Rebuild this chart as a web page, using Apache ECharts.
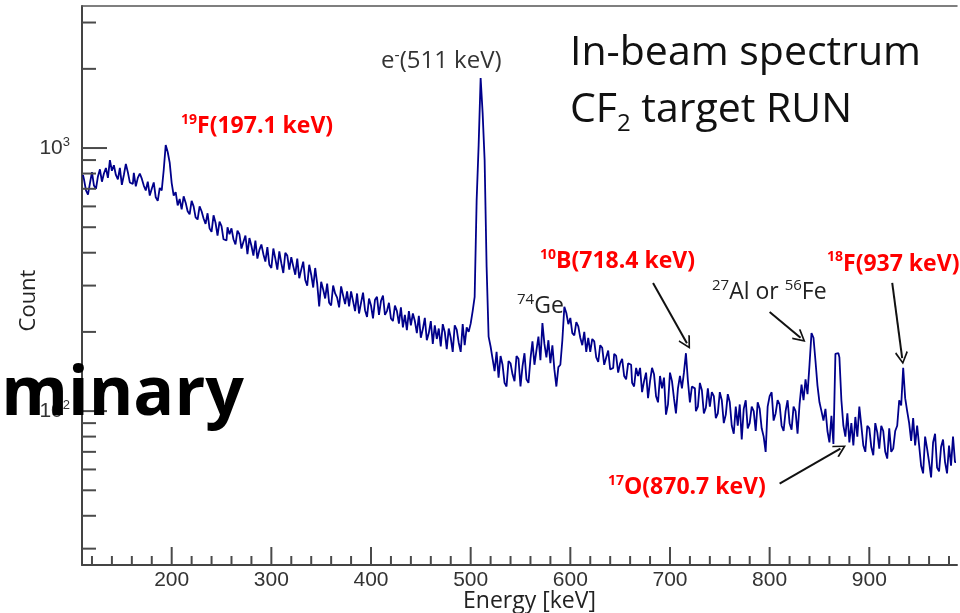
<!DOCTYPE html>
<html>
<head>
<meta charset="utf-8">
<script src="https://cdn.jsdelivr.net/npm/echarts@6/dist/echarts.min.js"></script>
<style>
html,body{margin:0;padding:0;background:#fff;}
#chart{width:960px;height:613px;}
</style>
</head>
<body>
<div id="chart"></div>
<script>
// ---- data ----
const binStart = 110;   // keV, left edge of first bin
const binWidth = 2;     // keV
const counts = [
  // 110-140
  790, 760, 690, 665, 735, 810, 720, 700, 780, 830, 745, 800, 840, 770, 900,
  // 140-170
  820, 860, 790, 760, 840, 725, 790, 870, 810, 740, 730, 805, 715, 770, 800,
  // 170-200
  765, 720, 690, 745, 660, 700, 740, 650, 630, 705, 690, 825, 1027, 966, 880,
  // 200-230
  736, 660, 680, 605, 640, 585, 655, 620, 575, 560, 630, 600, 545, 535, 600,
  // 230-260
  575, 540, 515, 565, 495, 480, 555, 520, 465, 525, 505, 450, 445, 500, 470,
  // 260-290
  495, 450, 430, 485, 470, 415, 440, 465, 395, 455, 425, 390, 445, 380, 410,
  // 290-320
  430, 395, 370, 420, 360, 350, 415, 380, 345, 405, 365, 335, 400, 390, 345,
  // 320-350
  385, 355, 330, 380, 320, 345, 370, 315, 300, 360, 330, 295, 350, 305, 250,
  // 350-380
  310, 290, 268, 305, 258, 252, 300, 280, 270, 248, 298, 275, 255, 285, 250,
  // 380-410
  285, 262, 240, 280, 235, 258, 282, 242, 228, 268, 252, 225, 265, 272, 232,
  // 410-440
  262, 275, 232, 240, 258, 225, 220, 252, 240, 215, 248, 208, 232, 203, 240,
  // 440-470
  212, 235, 220, 198, 230, 190, 205, 226, 186, 198, 220, 180, 212, 188, 206,
  // 470-500
  176, 214, 200, 172, 206, 190, 168, 212, 204, 182, 168, 214, 178, 208, 200,
  // 500-530
  215, 240, 272, 634, 1027, 1845, 1360, 900, 353, 192, 176, 158, 142, 168, 134,
  // 530-560
  162, 150, 128, 124, 155, 152, 138, 130, 162, 158, 124, 148, 166, 132, 128,
  // 560-590
  158, 184, 150, 170, 192, 156, 216, 180, 160, 186, 152, 178, 144, 124, 147,
  // 590-620
  150, 186, 249, 236, 214, 226, 198, 194, 218, 210, 190, 178, 200, 168, 190,
  // 620-650
  168, 188, 184, 160, 154, 178, 174, 150, 160, 170, 144, 146, 165, 162, 140,
  // 650-680
  152, 158, 136, 132, 152, 150, 128, 124, 146, 136, 146, 118, 130, 140, 112,
  // 680-710
  130, 146, 138, 114, 108, 136, 122, 134, 97, 106, 140, 130, 112, 98, 122,
  // 710-740
  136, 122, 140, 166, 130, 108, 124, 122, 100, 104, 128, 120, 98, 103, 122,
  // 740-770
  104, 118, 114, 94, 98, 118, 110, 90, 97, 116, 108, 88, 82, 104, 88,
  // 770-800
  106, 78, 102, 110, 86, 90, 104, 100, 84, 108, 102, 86, 80, 70, 104,
  // 800-830
  114, 118, 92, 98, 110, 106, 88, 84, 100, 110, 90, 85, 104, 100, 82,
  // 830-860
  106, 126, 110, 132, 116, 150, 198, 190, 155, 125, 108, 100, 92, 102, 84,
  // 860-890
  76, 96, 75, 165, 166, 160, 110, 88, 80, 98, 76, 90, 74, 95, 80,
  // 890-920
  104, 88, 74, 70, 88, 86, 73, 68, 90, 83, 72, 88, 84, 70, 66,
  // 920-950
  86, 70, 72, 84, 88, 110, 105, 146, 112, 100, 90, 77, 94, 74, 88,
  // 950-980
  74, 62, 58, 80, 72, 64, 56, 76, 82, 61, 59, 73, 78, 64, 58,
  // 980-988
  74, 62, 80, 64
];

const xMajorTicks = [200, 300, 400, 500, 600, 700, 800, 900];
const xMinorTicks = [120, 140, 160, 180, 220, 240, 260, 280, 320, 340, 360, 380,
  420, 440, 460, 480, 520, 540, 560, 580, 620, 640, 660, 680,
  720, 740, 760, 780, 820, 840, 860, 880, 920, 940, 960, 980];
const yMajorTicks = [100, 1000];
const yMinorTicks = [30, 40, 50, 60, 70, 80, 90, 200, 300, 400, 500, 600, 700, 800, 900, 2000, 3000];

// annotation arrows [fromEnergy, fromCount, toEnergy, toCount]
const arrows = [
  [683, 307, 717, 181],   // 10B
  [800, 238, 831, 190],   // 27Al / 56Fe
  [923, 307, 933, 159],   // 18F
  [810, 53, 871, 72]      // 17O
];

// ---- chart ----
const chart = echarts.init(document.getElementById('chart'), null, {renderer: 'canvas'});

const lineData = counts.map((c, i) => [binStart + binWidth * (i + 0.5), c]);

function xTick(params, api) {
  const cs = params.coordSys;
  const x = api.coord([api.value(0), 100])[0];
  const y0 = cs.y + cs.height;
  const len = api.value(2);
  return {type: 'line', shape: {x1: x, y1: y0, x2: x, y2: y0 - len},
          style: {stroke: '#4a4a4a', lineWidth: 2}};
}
function yTick(params, api) {
  const cs = params.coordSys;
  const y = api.coord([200, api.value(1)])[1];
  const x0 = cs.x;
  const len = api.value(2);
  return {type: 'line', shape: {x1: x0, y1: y, x2: x0 + len, y2: y},
          style: {stroke: '#4a4a4a', lineWidth: 2}};
}

const chevron = 'path://M0,0 L10,16 L8,17.6 L0,4.6 L-8,17.6 L-10,16 Z';

const supStyle = (color, bold) => ({fontSize: 14, fontFamily: 'Open Sans', fontWeight: bold ? 'bold' : 'normal',
  fill: color, color: color, verticalAlign: 'top', lineHeight: 16});
const mainStyle = (color, bold, size) => ({fontSize: size, fontFamily: 'Open Sans', fontWeight: bold ? 'bold' : 'normal',
  fill: color, color: color, lineHeight: 28});

function richText(x, y, text, color, bold, size, supSize) {
  const s = supStyle(color, bold);
  if (supSize) s.fontSize = supSize;
  return {
    type: 'text', x: x, y: y, z: 50,
    style: {
      text: text,
      rich: {s: s, m: mainStyle(color, bold, size)},
      textAlign: 'left', textVerticalAlign: 'middle', align: 'left', verticalAlign: 'middle'
    }
  };
}

const option = {
  animation: false,
  backgroundColor: '#ffffff',
  grid: {left: 82, right: 0, top: 6, bottom: 48, show: false, containLabel: false},
  xAxis: [
    {
      type: 'value', min: 110, max: 988, splitNumber: 9,
      axisLine: {show: true, lineStyle: {color: '#444', width: 2}},
      axisTick: {show: false},
      splitLine: {show: false},
      axisLabel: {
        margin: 5, fontFamily: 'Liberation Sans', fontSize: 21, color: '#333',
        formatter: v => (Math.abs(v % 100) < 1e-6 && v >= 200 && v <= 900) ? String(v) : ''
      }
    },
    {
      type: 'value', position: 'top', min: 110, max: 988,
      axisLine: {show: true, lineStyle: {color: '#555', width: 1.5}},
      axisTick: {show: false}, axisLabel: {show: false}, splitLine: {show: false}
    }
  ],
  yAxis: {
    type: 'log', logBase: 10, min: 26, max: 3467,
    axisLine: {show: true, lineStyle: {color: '#444', width: 2}},
    axisTick: {show: false},
    splitLine: {show: false},
    axisLabel: {
      margin: 12, fontFamily: 'Liberation Sans', fontSize: 21, color: '#333', lineHeight: 24,
      formatter: v => {
        const l = Math.log10(v);
        if (Math.abs(l - Math.round(l)) < 1e-6) return '10{s|' + Math.round(l) + '}';
        return '';
      },
      rich: {s: {fontSize: 13, fontFamily: 'Liberation Sans', color: '#333', verticalAlign: 'top', lineHeight: 14}}
    }
  },
  series: [
    {
      type: 'line', step: 'middle', showSymbol: false, symbol: 'none',
      data: lineData,
      lineStyle: {color: '#00008b', width: 1.8},
      itemStyle: {color: '#00008b'},
      silent: true, z: 5,
      markLine: {
        silent: true, animation: false,
        symbol: ['none', chevron], symbolSize: [13, 13],
        lineStyle: {color: '#111', width: 2, type: 'solid'},
        label: {show: false},
        emphasis: {disabled: true},
        data: arrows.map(a => [{coord: [a[0], a[1]]}, {coord: [a[2], a[3]]}])
      }
    },
    {
      type: 'custom', renderItem: xTick, silent: true, clip: false, z: 6,
      data: xMajorTicks.map(v => [v, 100, 18]).concat(xMinorTicks.map(v => [v, 100, 9]))
    },
    {
      type: 'custom', renderItem: yTick, silent: true, clip: false, z: 6,
      data: yMajorTicks.map(v => [200, v, 25]).concat(yMinorTicks.map(v => [200, v, 14]))
    }
  ],
  graphic: [
    richText(181, 126.6, '{s|19}{m|F(197.1 keV)}', '#ff0000', true, 23),
    richText(540, 261.6, '{s|10}{m|B(718.4 keV)}', '#ff0000', true, 23),
    richText(827, 264, '{s|18}{m|F(937 keV)}', '#ff0000', true, 23),
    richText(608, 487.6, '{s|17}{m|O(870.7 keV)}', '#ff0000', true, 23),
    richText(381, 61, '{m|e}{s|-}{m|(511 keV)}', '#333333', false, 24, 16),
    richText(517, 306, '{s|74}{m|Ge}', '#222222', false, 23, 15),
    richText(712, 292.5, '{s|27}{m|Al or }{s|56}{m|Fe}', '#222222', false, 23, 15),
    {
      type: 'text', x: 570, y: 53.3, z: 50,
      style: {text: 'In-beam spectrum', fontFamily: 'Open Sans', fontSize: 41, fill: '#111',
        textAlign: 'left', textVerticalAlign: 'middle', align: 'left', verticalAlign: 'middle'}
    },
    {
      type: 'text', x: 570, y: 110.8, z: 50,
      style: {
        text: '{m|CF}{b|2}{m| target RUN}',
        rich: {
          m: {fontFamily: 'Open Sans', fontSize: 41, fill: '#111', color: '#111', lineHeight: 50},
          b: {fontFamily: 'Open Sans', fontSize: 24, fill: '#111', color: '#111', lineHeight: 20, verticalAlign: 'bottom'}
        },
        textAlign: 'left', textVerticalAlign: 'middle', align: 'left', verticalAlign: 'middle'
      }
    },
    {
      type: 'text', x: 529.5, y: 601.6, z: 50,
      style: {text: 'Energy [keV]', fontFamily: 'Open Sans', fontSize: 23, fill: '#222',
        textAlign: 'center', textVerticalAlign: 'middle', align: 'center', verticalAlign: 'middle'}
    },
    {
      type: 'text', x: 29, y: 300.5, rotation: Math.PI / 2, z: 50,
      style: {text: 'Count', fontFamily: 'Open Sans', fontSize: 22, fill: '#222',
        textAlign: 'center', textVerticalAlign: 'middle', align: 'center', verticalAlign: 'middle'}
    },
    {
      type: 'text', x: 244, y: 395.6, z: 100,
      style: {text: 'Preliminary', fontFamily: 'Open Sans', fontWeight: 'bold', fontSize: 68, fill: '#000',
        textAlign: 'right', textVerticalAlign: 'middle', align: 'right', verticalAlign: 'middle'}
    }
  ]
};

chart.setOption(option);
</script>
</body>
</html>
